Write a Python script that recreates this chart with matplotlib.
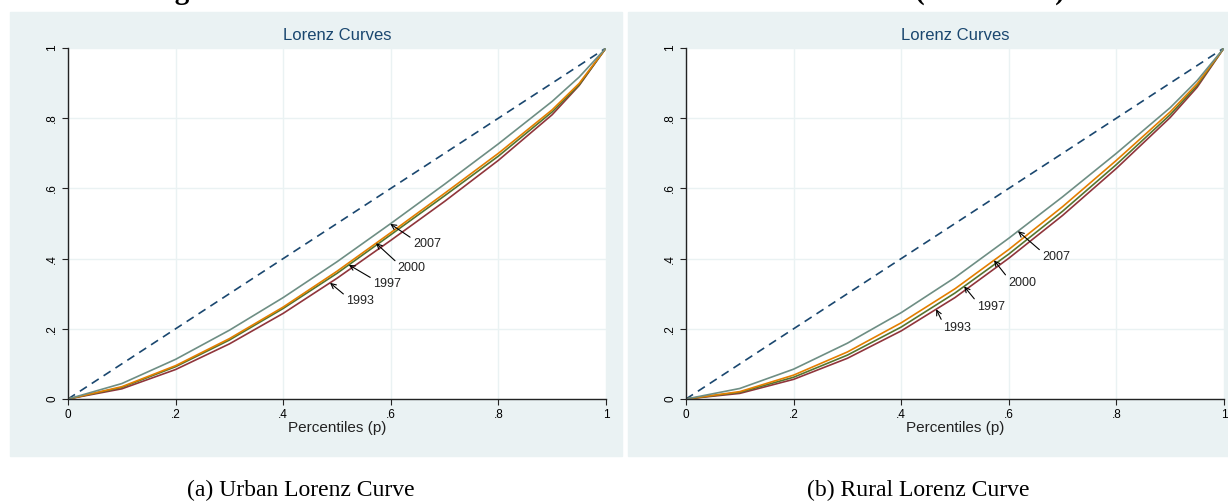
import numpy as np
import matplotlib
matplotlib.use("Agg")
import matplotlib.pyplot as plt
from matplotlib.patches import Rectangle

plt.rcParams['font.family'] = ['Liberation Sans', 'DejaVu Sans']

# cumulative population share
p = [0, .1, .2, .3, .4, .5, .6, .7, .8, .9, .95, 1]

years = ['1993', '1997', '2000', '2007']
colors = ['#90353b', '#55752f', '#e37e00', '#6e8e84']

# urban Lorenz ordinates
urban = {
    '1993': [0, .029, .084, .157, .244, .344, .452, .563, .680, .810, .893, 1],
    '1997': [0, .033, .092, .168, .258, .358, .468, .579, .692, .818, .895, 1],
    '2000': [0, .035, .095, .172, .262, .364, .474, .586, .700, .824, .899, 1],
    '2007': [0, .044, .113, .196, .289, .391, .500, .612, .727, .848, .917, 1],
}
# rural Lorenz ordinates
rural = {
    '1993': [0, .016, .056, .116, .194, .289, .401, .523, .657, .802, .888, 1],
    '1997': [0, .019, .062, .125, .205, .302, .413, .535, .668, .810, .893, 1],
    '2000': [0, .021, .068, .134, .217, .314, .426, .548, .680, .818, .898, 1],
    '2007': [0, .030, .085, .159, .246, .346, .458, .576, .700, .830, .907, 1],
}

# label annotations: p where arrow hits the curve, and label position
urban_tip = {'1993': .487, '1997': .522, '2000': .5725, '2007': .599}
urban_lab = {'1993': (.517, .279), '1997': (.567, .328),
             '2000': (.613, .373), '2007': (.641, .442)}
rural_tip = {'1993': .465, '1997': .517, '2000': .5725, '2007': .617}
rural_lab = {'1993': (.478, .202), '1997': (.541, .262),
             '2000': (.599, .330), '2007': (.662, .405)}

ticks = [0, .2, .4, .6, .8, 1]
tick_labels = ['0', '.2', '.4', '.6', '.8', '1']

W, H = 1228, 503
fig = plt.figure(figsize=(W / 100, H / 100), dpi=100)
fig.patch.set_facecolor('white')

bg = '#eaf2f3'
navy = '#1a476f'

# graph regions (behind the axes)
fig.patches.append(Rectangle((10 / W, 1 - 456 / H), 612 / W, 444 / H,
                             transform=fig.transFigure, color=bg, zorder=-10))
fig.patches.append(Rectangle((628 / W, 1 - 456 / H), 610 / W, 444 / H,
                             transform=fig.transFigure, color=bg, zorder=-10))


def panel(left_px, data, tips, labs):
    ax = fig.add_axes([left_px / W, 1 - 399 / H, 538 / W, 351 / H])
    ax.set_facecolor('white')
    ax.plot([0, 1], [0, 1], color=navy, lw=1.2, dashes=(5, 3.5))
    for y, c in zip(years, colors):
        ax.plot(p, data[y], color=c, lw=1.2)
    for y in years:
        tx = tips[y]
        ty = np.interp(tx, p, data[y])
        ax.annotate(y, xy=(tx, ty), xytext=labs[y], textcoords='data',
                    ha='left', va='center', fontsize=9, color='#222222',
                    arrowprops=dict(arrowstyle='->', color='black', lw=0.8,
                                    relpos=(0, 0.9), shrinkA=0, shrinkB=0))
    ax.set_xlim(0, 1)
    ax.set_ylim(0, 1)
    ax.set_xticks(ticks)
    ax.set_xticklabels(tick_labels, fontsize=8.5)
    ax.set_yticks(ticks)
    ax.set_yticklabels(tick_labels, fontsize=8.5, rotation=90, va='center')
    ax.grid(True, color=bg, lw=1)
    ax.set_axisbelow(True)
    for s in ['top', 'right']:
        ax.spines[s].set_visible(False)
    for s in ['left', 'bottom']:
        ax.spines[s].set_color('#222222')
        ax.spines[s].set_linewidth(1)
    ax.tick_params(length=4, width=0.8, color='#222222', pad=3)
    ax.set_xlabel('Percentiles (p)', fontsize=11, color='#222222', labelpad=0)
    ax.set_title('Lorenz Curves', fontsize=12, color=navy, pad=6)
    return ax


panel(68, urban, urban_tip, urban_lab)
panel(686, rural, rural_tip, rural_lab)

# captions
fig.text(301 / W, 1 - 490 / H, '(a) Urban Lorenz Curve', ha='center', va='center',
         fontsize=17, family='Liberation Serif')
fig.text(918 / W, 1 - 490 / H, '(b) Rural Lorenz Curve', ha='center', va='center',
         fontsize=17, family='Liberation Serif')

# figure title, cropped at the top of the page
fig.text(149 / W, 1 + 1 / H, 'Figure 3: Lorenz Curves', ha='left', va='baseline',
         fontsize=21, family='Liberation Serif', weight='bold')
fig.text(915 / W, 1 + 1 / H, '(1993\u20132007)', ha='left', va='baseline',
         fontsize=21, family='Liberation Serif', weight='bold')

fig.savefig('out.png', dpi=100)
